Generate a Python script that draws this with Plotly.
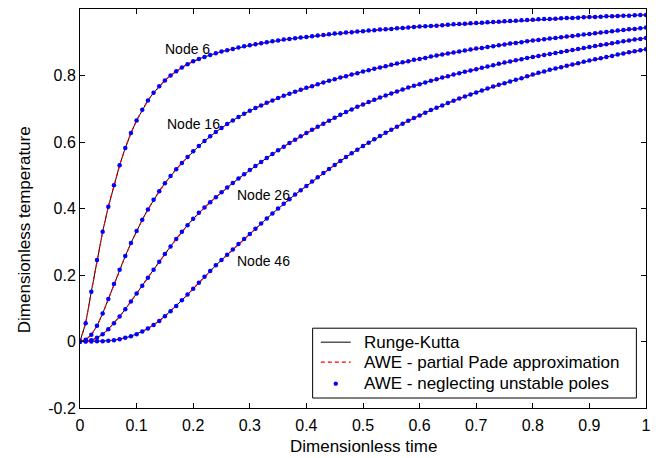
import plotly.graph_objects as go

# Dimensionless time samples
time = [
    0.00, 0.01, 0.02, 0.03, 0.04, 0.05, 0.06, 0.07, 0.08, 0.09,
    0.10, 0.11, 0.12, 0.13, 0.14, 0.15, 0.16, 0.17, 0.18, 0.19,
    0.20, 0.21, 0.22, 0.23, 0.24, 0.25, 0.26, 0.27, 0.28, 0.29,
    0.30, 0.31, 0.32, 0.33, 0.34, 0.35, 0.36, 0.37, 0.38, 0.39,
    0.40, 0.41, 0.42, 0.43, 0.44, 0.45, 0.46, 0.47, 0.48, 0.49,
    0.50, 0.51, 0.52, 0.53, 0.54, 0.55, 0.56, 0.57, 0.58, 0.59,
    0.60, 0.61, 0.62, 0.63, 0.64, 0.65, 0.66, 0.67, 0.68, 0.69,
    0.70, 0.71, 0.72, 0.73, 0.74, 0.75, 0.76, 0.77, 0.78, 0.79,
    0.80, 0.81, 0.82, 0.83, 0.84, 0.85, 0.86, 0.87, 0.88, 0.89,
    0.90, 0.91, 0.92, 0.93, 0.94, 0.95, 0.96, 0.97, 0.98, 0.99,
    1.00,
]

# Dimensionless temperature at each node
node6 = [
    0.000, 0.055, 0.150, 0.245, 0.330, 0.405, 0.470, 0.530, 0.582, 0.627,
    0.665, 0.697, 0.725, 0.748, 0.768, 0.785, 0.800, 0.813, 0.824, 0.834,
    0.843, 0.850, 0.856, 0.862, 0.867, 0.872, 0.876, 0.880, 0.884, 0.888,
    0.891, 0.894, 0.897, 0.900, 0.903, 0.905, 0.908, 0.910, 0.912, 0.914,
    0.916, 0.918, 0.920, 0.922, 0.924, 0.926, 0.927, 0.929, 0.930, 0.932,
    0.933, 0.935, 0.936, 0.938, 0.939, 0.940, 0.942, 0.943, 0.944, 0.946,
    0.947, 0.948, 0.949, 0.950, 0.951, 0.953, 0.954, 0.955, 0.956, 0.957,
    0.958, 0.959, 0.960, 0.961, 0.962, 0.963, 0.964, 0.965, 0.966, 0.967,
    0.968, 0.969, 0.970, 0.970, 0.971, 0.972, 0.973, 0.973, 0.974, 0.975,
    0.976, 0.976, 0.977, 0.978, 0.978, 0.979, 0.980, 0.980, 0.981, 0.982,
    0.982,
]
node16 = [
    0.000, 0.005, 0.020, 0.047, 0.084, 0.128, 0.173, 0.216, 0.257, 0.296,
    0.332, 0.366, 0.397, 0.426, 0.452, 0.476, 0.498, 0.518, 0.537, 0.555,
    0.572, 0.588, 0.603, 0.617, 0.630, 0.642, 0.654, 0.665, 0.675, 0.685,
    0.694, 0.702, 0.710, 0.718, 0.725, 0.732, 0.739, 0.745, 0.751, 0.757,
    0.763, 0.768, 0.774, 0.779, 0.784, 0.789, 0.794, 0.798, 0.803, 0.807,
    0.812, 0.816, 0.820, 0.824, 0.828, 0.832, 0.836, 0.840, 0.843, 0.847,
    0.850, 0.853, 0.857, 0.860, 0.863, 0.866, 0.869, 0.872, 0.875, 0.878,
    0.881, 0.883, 0.886, 0.888, 0.891, 0.893, 0.896, 0.898, 0.900, 0.903,
    0.905, 0.907, 0.909, 0.911, 0.913, 0.915, 0.917, 0.919, 0.921, 0.923,
    0.925, 0.927, 0.929, 0.931, 0.933, 0.935, 0.937, 0.939, 0.940, 0.942,
    0.944,
]
node26 = [
    0.000, 0.001, 0.004, 0.011, 0.022, 0.037, 0.055, 0.075, 0.097, 0.120,
    0.144, 0.168, 0.192, 0.216, 0.240, 0.263, 0.286, 0.308, 0.330, 0.350,
    0.369, 0.387, 0.403, 0.419, 0.434, 0.449, 0.463, 0.477, 0.490, 0.503,
    0.516, 0.528, 0.540, 0.552, 0.564, 0.575, 0.586, 0.597, 0.607, 0.617,
    0.627, 0.637, 0.646, 0.655, 0.664, 0.673, 0.682, 0.690, 0.698, 0.706,
    0.713, 0.720, 0.727, 0.734, 0.740, 0.746, 0.752, 0.758, 0.764, 0.769,
    0.774, 0.779, 0.784, 0.789, 0.794, 0.798, 0.803, 0.807, 0.811, 0.815,
    0.819, 0.823, 0.827, 0.831, 0.835, 0.839, 0.842, 0.846, 0.849, 0.853,
    0.856, 0.859, 0.862, 0.865, 0.868, 0.871, 0.874, 0.877, 0.880, 0.883,
    0.886, 0.889, 0.892, 0.894, 0.897, 0.900, 0.903, 0.905, 0.908, 0.910,
    0.913,
]
node46 = [
    0.000, 0.000, 0.000, 0.001, 0.001, 0.002, 0.004, 0.007, 0.011, 0.016,
    0.022, 0.030, 0.039, 0.050, 0.062, 0.076, 0.091, 0.107, 0.124, 0.141,
    0.159, 0.177, 0.195, 0.212, 0.229, 0.245, 0.261, 0.277, 0.293, 0.308,
    0.323, 0.339, 0.355, 0.370, 0.385, 0.400, 0.414, 0.428, 0.442, 0.455,
    0.468, 0.481, 0.494, 0.507, 0.519, 0.531, 0.543, 0.555, 0.566, 0.577,
    0.588, 0.598, 0.608, 0.618, 0.628, 0.637, 0.646, 0.655, 0.664, 0.672,
    0.680, 0.688, 0.696, 0.703, 0.710, 0.717, 0.724, 0.731, 0.737, 0.743,
    0.749, 0.755, 0.761, 0.767, 0.772, 0.777, 0.782, 0.787, 0.792, 0.798,
    0.803, 0.808, 0.812, 0.817, 0.821, 0.825, 0.829, 0.833, 0.837, 0.841,
    0.845, 0.849, 0.852, 0.856, 0.859, 0.863, 0.866, 0.870, 0.873, 0.876,
    0.879,
]

curves = [node6, node16, node26, node46]

# Node labels: text, left x, centre y
label_text = ["Node 6", "Node 16", "Node 26", "Node 46"]
label_x = [0.146, 0.150, 0.273, 0.273]
label_y = [0.881, 0.653, 0.442, 0.241]

series_names = [
    "Runge-Kutta",
    "AWE - partial Pade approximation",
    "AWE - neglecting unstable poles",
]

x_ticks = [0, 0.1, 0.2, 0.3, 0.4, 0.5, 0.6, 0.7, 0.8, 0.9, 1]
x_tick_text = ["0", "0.1", "0.2", "0.3", "0.4", "0.5", "0.6", "0.7", "0.8", "0.9", "1"]
y_ticks = [-0.2, 0, 0.2, 0.4, 0.6, 0.8]
y_tick_text = ["-0.2", "0", "0.2", "0.4", "0.6", "0.8"]

FONT = "Liberation Sans, Arial, sans-serif"
RED = "#ff0000"
BLUE = "#0000ff"

fig = go.Figure()

for v in curves:
    fig.add_trace(go.Scatter(
        x=time, y=v, mode="lines", line=dict(color="black", width=1),
        name=series_names[0], showlegend=False,
    ))
for v in curves:
    fig.add_trace(go.Scatter(
        x=time, y=v, mode="lines", line=dict(color=RED, width=1.2, dash="4px,3px"),
        name=series_names[1], showlegend=False,
    ))
for v in curves:
    fig.add_trace(go.Scatter(
        x=time, y=v, mode="markers",
        marker=dict(color=BLUE, size=4.5, line=dict(width=0)),
        name=series_names[2], showlegend=False,
    ))

for t, lx, ly in zip(label_text, label_x, label_y):
    fig.add_annotation(
        x=lx, y=ly, xref="x", yref="y", text=t, showarrow=False,
        xanchor="left", yanchor="middle",
        font=dict(family=FONT, size=14, color="black"),
    )

# Axis titles
fig.add_annotation(
    x=0.5, y=-0.097, xref="paper", yref="paper", text="Dimensionless time",
    showarrow=False, xanchor="center", yanchor="middle",
    font=dict(family=FONT, size=17, color="black"),
)
fig.add_annotation(
    x=-0.0986, y=0.446, xref="paper", yref="paper",
    text="Dimensionless temperature", textangle=-90,
    showarrow=False, xanchor="center", yanchor="middle",
    font=dict(family=FONT, size=17, color="black"),
)

# Legend box in the lower right corner of the axes
box_x0, box_x1, box_y0, box_y1 = 0.411, 0.983, 0.025, 0.200
row_y = [0.165, 0.115, 0.061]
sample_x0, sample_x1 = 0.4255, 0.4783
text_x = 0.4988

fig.add_shape(type="rect", xref="paper", yref="paper",
              x0=box_x0, x1=box_x1, y0=box_y0, y1=box_y1,
              line=dict(color="black", width=1), fillcolor="white", layer="above")
fig.add_shape(type="line", xref="paper", yref="paper",
              x0=sample_x0, x1=sample_x1, y0=row_y[0], y1=row_y[0],
              line=dict(color="black", width=1), layer="above")
fig.add_shape(type="line", xref="paper", yref="paper",
              x0=sample_x0, x1=sample_x1, y0=row_y[1], y1=row_y[1],
              line=dict(color=RED, width=1.2, dash="4px,3px"), layer="above")
dot_cx = (sample_x0 + sample_x1) / 2
dot_rx, dot_ry = 2.2 / 568, 2.2 / 400
fig.add_shape(type="circle", xref="paper", yref="paper",
              x0=dot_cx - dot_rx, x1=dot_cx + dot_rx,
              y0=row_y[2] - dot_ry, y1=row_y[2] + dot_ry,
              line=dict(width=0), fillcolor=BLUE, layer="above")
for name, ry in zip(series_names, row_y):
    fig.add_annotation(
        x=text_x, y=ry, xref="paper", yref="paper", text=name, showarrow=False,
        xanchor="left", yanchor="middle",
        font=dict(family=FONT, size=17, color="black"),
    )

axis_common = dict(
    showline=True, linecolor="black", linewidth=1, mirror="ticks",
    ticks="inside", ticklen=5, tickcolor="black", tickwidth=1,
    showgrid=False, zeroline=False,
    tickfont=dict(family=FONT, size=16, color="black"),
)

fig.update_xaxes(range=[0, 1], tickvals=x_ticks, ticktext=x_tick_text,
                 ticklabelstandoff=3, **axis_common)
fig.update_yaxes(range=[-0.2, 1.0], tickvals=y_ticks, ticktext=y_tick_text, **axis_common)

fig.update_layout(
    width=659, height=458,
    margin=dict(l=80, r=11, t=8, b=50),
    paper_bgcolor="white", plot_bgcolor="white",
    font=dict(family=FONT, color="black"),
    showlegend=False,
)

fig.write_html("out.html")
